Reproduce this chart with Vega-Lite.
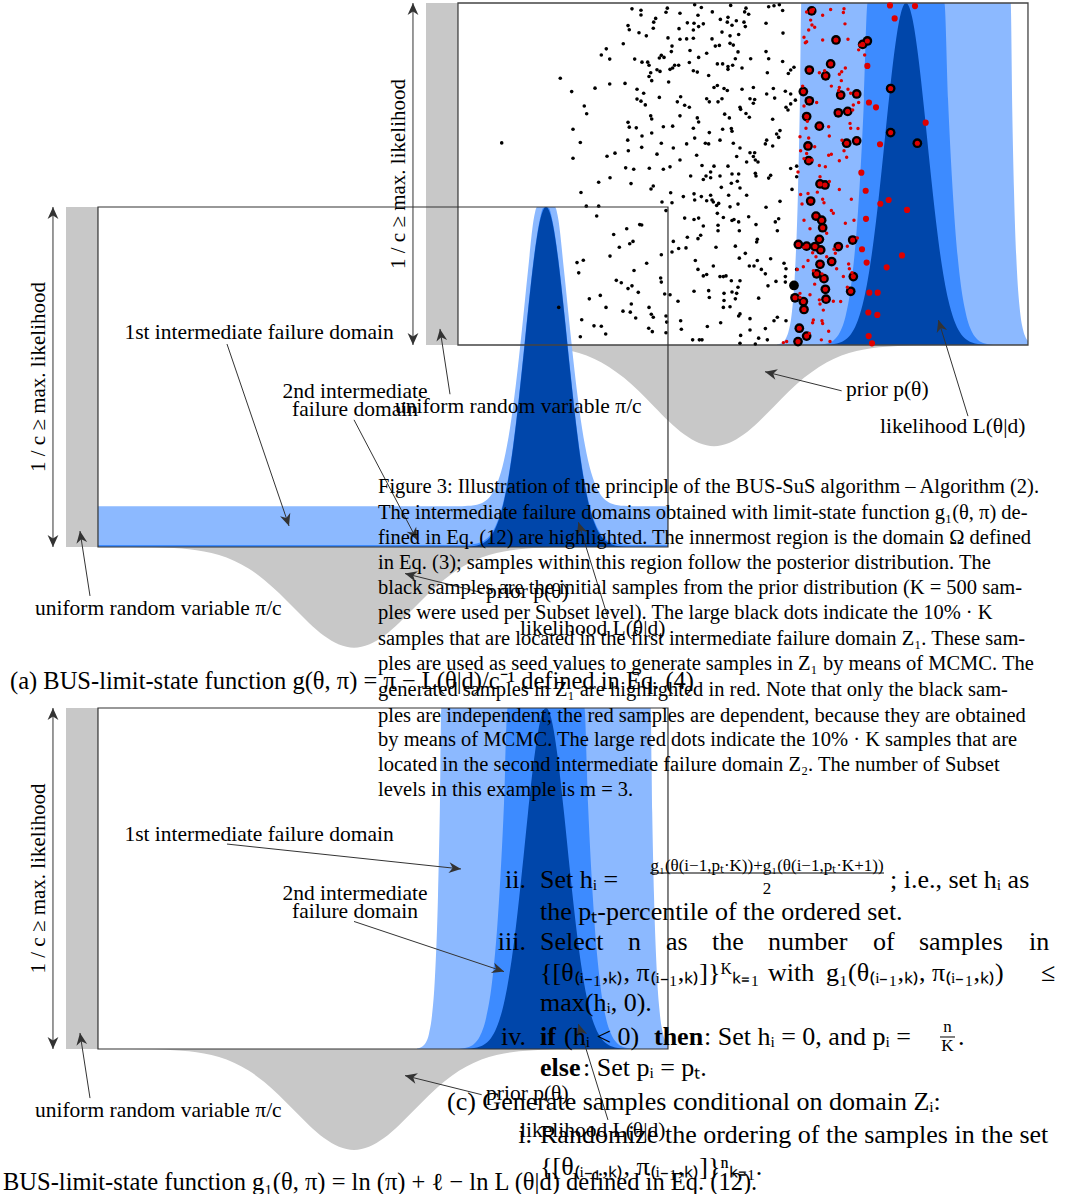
{
  "$schema": "https://vega.github.io/schema/vega-lite/v6.json",
  "width": 1068,
  "height": 1194,
  "padding": 0,
  "autosize": {"type": "none"},
  "background": "white",
  "config": {"view": {"stroke": null}},
  "datasets": {
    "bar": [{"x": -4.8, "x2": -4.267, "y": 0, "y2": 1}],
    "box": [{"x": -4.267, "x2": 5.233, "y": 0, "y2": 1}],
    "prior": [
      {"t": -4, "p": -0.0001}, {"t": -3.5, "p": -0.0007}, {"t": -3.25, "p": -0.0015}, {"t": -3, "p": -0.0033},
      {"t": -2.75, "p": -0.0067}, {"t": -2.5, "p": -0.013}, {"t": -2.25, "p": -0.0236}, {"t": -2, "p": -0.0401},
      {"t": -1.75, "p": -0.064}, {"t": -1.5, "p": -0.0961}, {"t": -1.25, "p": -0.1355}, {"t": -1, "p": -0.1795},
      {"t": -0.75, "p": -0.2234}, {"t": -0.5, "p": -0.2612}, {"t": -0.25, "p": -0.2869}, {"t": 0, "p": -0.296},
      {"t": 0.25, "p": -0.2869}, {"t": 0.5, "p": -0.2612}, {"t": 0.75, "p": -0.2234}, {"t": 1, "p": -0.1795},
      {"t": 1.25, "p": -0.1355}, {"t": 1.5, "p": -0.0961}, {"t": 1.75, "p": -0.064}, {"t": 2, "p": -0.0401},
      {"t": 2.25, "p": -0.0236}, {"t": 2.5, "p": -0.013}, {"t": 2.75, "p": -0.0067}, {"t": 3, "p": -0.0033},
      {"t": 3.25, "p": -0.0015}, {"t": 3.5, "p": -0.0007}, {"t": 4, "p": -0.0001}
    ],
    "lik": [
      {"t": 1.05, "lt": 0.0016, "md": 0, "dk": 0}, {"t": 1.1, "lt": 0.0038, "md": 0, "dk": 0},
      {"t": 1.15, "lt": 0.0089, "md": 0, "dk": 0}, {"t": 1.2, "lt": 0.02, "md": 0, "dk": 0},
      {"t": 1.25, "lt": 0.045, "md": 0, "dk": 0}, {"t": 1.3, "lt": 0.099, "md": 0, "dk": 0},
      {"t": 1.35, "lt": 0.214, "md": 0, "dk": 0}, {"t": 1.4, "lt": 0.45, "md": 0, "dk": 0},
      {"t": 1.43, "lt": 0.696, "md": 0, "dk": 0}, {"t": 1.455, "lt": 1, "md": 0, "dk": 0},
      {"t": 1.7, "lt": 1, "md": 0, "dk": 0}, {"t": 1.8, "lt": 1, "md": 0.0018, "dk": 0},
      {"t": 1.9, "lt": 1, "md": 0.0054, "dk": 0.001}, {"t": 2.0, "lt": 1, "md": 0.0149, "dk": 0.0028},
      {"t": 2.1, "lt": 1, "md": 0.038, "dk": 0.0072}, {"t": 2.2, "lt": 1, "md": 0.09, "dk": 0.0169},
      {"t": 2.3, "lt": 1, "md": 0.195, "dk": 0.0367}, {"t": 2.4, "lt": 1, "md": 0.391, "dk": 0.0734},
      {"t": 2.5, "lt": 1, "md": 0.72, "dk": 0.135}, {"t": 2.56, "lt": 1, "md": 1, "dk": 0.188},
      {"t": 2.6, "lt": 1, "md": 1, "dk": 0.23}, {"t": 2.7, "lt": 1, "md": 1, "dk": 0.361},
      {"t": 2.8, "lt": 1, "md": 1, "dk": 0.521}, {"t": 2.9, "lt": 1, "md": 1, "dk": 0.693},
      {"t": 3.0, "lt": 1, "md": 1, "dk": 0.849}, {"t": 3.1, "lt": 1, "md": 1, "dk": 0.96},
      {"t": 3.15, "lt": 1, "md": 1, "dk": 0.99}, {"t": 3.2, "lt": 1, "md": 1, "dk": 1},
      {"t": 3.25, "lt": 1, "md": 1, "dk": 0.99}, {"t": 3.3, "lt": 1, "md": 1, "dk": 0.96},
      {"t": 3.4, "lt": 1, "md": 1, "dk": 0.849}, {"t": 3.5, "lt": 1, "md": 1, "dk": 0.693},
      {"t": 3.6, "lt": 1, "md": 1, "dk": 0.521}, {"t": 3.7, "lt": 1, "md": 1, "dk": 0.361},
      {"t": 3.8, "lt": 1, "md": 1, "dk": 0.23}, {"t": 3.84, "lt": 1, "md": 1, "dk": 0.188},
      {"t": 3.9, "lt": 1, "md": 0.72, "dk": 0.135}, {"t": 4.0, "lt": 1, "md": 0.391, "dk": 0.0734},
      {"t": 4.1, "lt": 1, "md": 0.195, "dk": 0.0367}, {"t": 4.2, "lt": 1, "md": 0.09, "dk": 0.0169},
      {"t": 4.3, "lt": 1, "md": 0.038, "dk": 0.0072}, {"t": 4.4, "lt": 1, "md": 0.0149, "dk": 0.0028},
      {"t": 4.5, "lt": 1, "md": 0.0054, "dk": 0.001}, {"t": 4.6, "lt": 1, "md": 0.0018, "dk": 0},
      {"t": 4.7, "lt": 1, "md": 0, "dk": 0}, {"t": 4.945, "lt": 1, "md": 0, "dk": 0},
      {"t": 4.97, "lt": 0.696, "md": 0, "dk": 0}, {"t": 5.0, "lt": 0.45, "md": 0, "dk": 0},
      {"t": 5.05, "lt": 0.214, "md": 0, "dk": 0}, {"t": 5.1, "lt": 0.099, "md": 0, "dk": 0},
      {"t": 5.15, "lt": 0.045, "md": 0, "dk": 0}, {"t": 5.2, "lt": 0.02, "md": 0, "dk": 0},
      {"t": 5.233, "lt": 0.0118, "md": 0, "dk": 0}
    ],
    "likA": [
      {"t": -4.267, "lt": 0.12, "md": 0.006, "dk": 0}, {"t": 1.8, "lt": 0.12, "md": 0.006, "dk": 0},
      {"t": 1.9, "lt": 0.121, "md": 0.007, "dk": 0.001}, {"t": 2.0, "lt": 0.1228, "md": 0.0088, "dk": 0.0028},
      {"t": 2.1, "lt": 0.1272, "md": 0.0132, "dk": 0.0072}, {"t": 2.2, "lt": 0.1369, "md": 0.0229, "dk": 0.0169},
      {"t": 2.3, "lt": 0.1567, "md": 0.0427, "dk": 0.0367}, {"t": 2.4, "lt": 0.1934, "md": 0.0794, "dk": 0.0734},
      {"t": 2.5, "lt": 0.255, "md": 0.141, "dk": 0.135}, {"t": 2.6, "lt": 0.35, "md": 0.236, "dk": 0.23},
      {"t": 2.7, "lt": 0.481, "md": 0.367, "dk": 0.361}, {"t": 2.8, "lt": 0.641, "md": 0.527, "dk": 0.521},
      {"t": 2.9, "lt": 0.813, "md": 0.699, "dk": 0.693}, {"t": 3.0, "lt": 0.969, "md": 0.855, "dk": 0.849},
      {"t": 3.05, "lt": 1, "md": 0.918, "dk": 0.912}, {"t": 3.1, "lt": 1, "md": 0.966, "dk": 0.96},
      {"t": 3.15, "lt": 1, "md": 0.996, "dk": 0.99}, {"t": 3.2, "lt": 1, "md": 1, "dk": 1},
      {"t": 3.25, "lt": 1, "md": 0.996, "dk": 0.99}, {"t": 3.3, "lt": 1, "md": 0.966, "dk": 0.96},
      {"t": 3.35, "lt": 1, "md": 0.918, "dk": 0.912}, {"t": 3.4, "lt": 0.969, "md": 0.855, "dk": 0.849},
      {"t": 3.5, "lt": 0.813, "md": 0.699, "dk": 0.693}, {"t": 3.6, "lt": 0.641, "md": 0.527, "dk": 0.521},
      {"t": 3.7, "lt": 0.481, "md": 0.367, "dk": 0.361}, {"t": 3.8, "lt": 0.35, "md": 0.236, "dk": 0.23},
      {"t": 3.9, "lt": 0.255, "md": 0.141, "dk": 0.135}, {"t": 4.0, "lt": 0.1934, "md": 0.0794, "dk": 0.0734},
      {"t": 4.1, "lt": 0.1567, "md": 0.0427, "dk": 0.0367}, {"t": 4.2, "lt": 0.1369, "md": 0.0229, "dk": 0.0169},
      {"t": 4.3, "lt": 0.1272, "md": 0.0132, "dk": 0.0072}, {"t": 4.4, "lt": 0.1228, "md": 0.0088, "dk": 0.0028},
      {"t": 4.5, "lt": 0.121, "md": 0.007, "dk": 0.001}, {"t": 4.6, "lt": 0.12, "md": 0.006, "dk": 0},
      {"t": 5.233, "lt": 0.12, "md": 0.006, "dk": 0}
    ],
    "guides": [
      {"x": -5.017, "y": 0, "x2": -5.017, "y2": 1},
      {"x": -4.4, "y": -0.144, "x2": -4.567, "y2": 0.047},
      {"x": 2.128, "y": -0.134, "x2": 0.85, "y2": -0.078},
      {"x": 4.233, "y": -0.208, "x2": 3.74, "y2": 0.073}
    ],
    "heads": [
      {"x": -5.017, "y": 1, "dir": 0},
      {"x": -5.017, "y": 0, "dir": 180},
      {"x": -4.567, "y": 0.047, "dir": -8.7},
      {"x": 0.85, "y": -0.078, "dir": -76.1},
      {"x": 3.74, "y": 0.073, "dir": -17.1}
    ],
    "notes": [
      {"x": -5.317, "y": -0.182, "text": "uniform random variable π/c"},
      {"x": 2.2, "y": -0.132, "text": "prior p(θ)"},
      {"x": 2.767, "y": -0.24, "text": "likelihood L(θ|d)"}
    ],
    "axisNote": [{"x": -5.25, "y": 0.5, "text": "1 / c ≥ max. likelihood"}],
    "domLabels": [
      {"x": -1.583, "y": 0.629, "text": "1st intermediate failure domain"},
      {"x": 0.017, "y": 0.456, "text": "2nd intermediate"},
      {"x": 0.017, "y": 0.403, "text": "failure domain"}
    ],
    "arrowsA": [
      {"x": -2.117, "y": 0.597, "x2": -1.083, "y2": 0.062},
      {"x": 0, "y": 0.374, "x2": 1.05, "y2": 0.021}
    ],
    "headsA": [
      {"x": -1.083, "y": 0.062, "dir": 161.2},
      {"x": 1.05, "y": 0.021, "dir": 152.3}
    ],
    "arrowsB": [
      {"x": -2.117, "y": 0.601, "x2": 1.783, "y2": 0.528},
      {"x": 0, "y": 0.374, "x2": 2.5, "y2": 0.227}
    ],
    "headsB": [
      {"x": 1.783, "y": 0.528, "dir": 96.1},
      {"x": 2.5, "y": 0.227, "dir": 108.4}
    ],
    "capA": [{"x": -5.733, "y": -0.397, "text": "(a) BUS-limit-state function g(θ, π) = π − L(θ|d)/c⁻¹ defined in Eq. (4)"}],
    "capB": [{"x": -5.85, "y": -0.393, "text": "BUS-limit-state function g₁(θ, π) = ln (π) + ℓ − ln L (θ|d) defined in Eq. (12)."}],
    "blk": [
      {"x": -1.367, "y": 0.983}, {"x": -1.217, "y": 0.979}, {"x": -1.217, "y": 0.965}, {"x": -0.972, "y": 0.955},
      {"x": -1.005, "y": 0.944}, {"x": -1.012, "y": 0.926}, {"x": -1.433, "y": 0.934}, {"x": -1.412, "y": 0.922},
      {"x": -1.25, "y": 0.913}, {"x": -1.128, "y": 0.904}, {"x": -1.512, "y": 0.881}, {"x": -1.795, "y": 0.866},
      {"x": -1.878, "y": 0.848}, {"x": -1.738, "y": 0.836}, {"x": -1.322, "y": 0.836}, {"x": -1.2, "y": 0.827},
      {"x": -1.105, "y": 0.827}, {"x": -1.083, "y": 0.818}, {"x": -0.95, "y": 0.805}, {"x": -1.055, "y": 0.796},
      {"x": -1.083, "y": 0.785}, {"x": -1.038, "y": 0.773}, {"x": -2.562, "y": 0.78}, {"x": -2.372, "y": 0.741},
      {"x": -1.983, "y": 0.751}, {"x": -1.738, "y": 0.763}, {"x": -1.483, "y": 0.765}, {"x": -1.283, "y": 0.748},
      {"x": -1.172, "y": 0.736}, {"x": -1.283, "y": 0.719}, {"x": -1.217, "y": 0.713}, {"x": -1.145, "y": 0.702},
      {"x": -2.162, "y": 0.699}, {"x": -2.122, "y": 0.676}, {"x": -1.055, "y": 0.67}, {"x": -1.038, "y": 0.661},
      {"x": -2.35, "y": 0.631}, {"x": -1.433, "y": 0.651}, {"x": -1.412, "y": 0.637}, {"x": -1.295, "y": 0.635},
      {"x": -1.038, "y": 0.62}, {"x": -1.2, "y": 0.611}, {"x": -1.438, "y": 0.599}, {"x": -2.228, "y": 0.592},
      {"x": -3.538, "y": 0.591}, {"x": -1.205, "y": 0.578}, {"x": -1.428, "y": 0.568}, {"x": -1.65, "y": 0.561},
      {"x": -1.783, "y": 0.552}, {"x": -0.95, "y": 0.558}, {"x": -2.35, "y": 0.546}, {"x": -1.472, "y": 0.518},
      {"x": -1.338, "y": 0.514}, {"x": -1.078, "y": 0.517},
      {"x": -2.217, "y": 0.446}, {"x": -1.922, "y": 0.476}, {"x": -1.733, "y": 0.489}, {"x": -1.383, "y": 0.472},
      {"x": -1.012, "y": 0.465}, {"x": -1.05, "y": 0.456}, {"x": -2.128, "y": 0.406}, {"x": -1.922, "y": 0.406},
      {"x": -1.955, "y": 0.377}, {"x": -1.238, "y": 0.352}, {"x": -1.205, "y": 0.351}, {"x": -1.455, "y": 0.34},
      {"x": -1.672, "y": 0.323}, {"x": -1.35, "y": 0.303}, {"x": -1.405, "y": 0.296}, {"x": -1.578, "y": 0.286},
      {"x": -1.733, "y": 0.26}, {"x": -2.178, "y": 0.248}, {"x": -2.283, "y": 0.241}, {"x": -2.255, "y": 0.211},
      {"x": -1.122, "y": 0.239}, {"x": -1.333, "y": 0.218}, {"x": -1.628, "y": 0.189}, {"x": -1.545, "y": 0.182},
      {"x": -1.367, "y": 0.173}, {"x": -1.433, "y": 0.165}, {"x": -1.262, "y": 0.154}, {"x": -1.895, "y": 0.145},
      {"x": -2.078, "y": 0.135}, {"x": -1.8, "y": 0.11}, {"x": -2.588, "y": 0.11}, {"x": -1.378, "y": 0.12},
      {"x": -1.517, "y": 0.099}, {"x": -1.395, "y": 0.096}, {"x": -1.083, "y": 0.11}, {"x": -1.045, "y": 0.09},
      {"x": -1.012, "y": 0.081}, {"x": -1.305, "y": 0.079}, {"x": -2.205, "y": 0.074}, {"x": -2.0, "y": 0.056},
      {"x": -1.878, "y": 0.055}, {"x": -1.805, "y": 0.032}, {"x": -1.088, "y": 0.049}, {"x": -1.028, "y": 0.039},
      {"x": -2.228, "y": 0.024},
      {"x": -0.778, "y": 0.985}, {"x": -0.8, "y": 0.973}, {"x": -0.567, "y": 0.97}, {"x": -0.322, "y": 0.995},
      {"x": -0.267, "y": 0.964}, {"x": -0.211, "y": 0.987}, {"x": -0.028, "y": 0.974}, {"x": 0.278, "y": 0.993},
      {"x": 0.533, "y": 0.985}, {"x": 0.511, "y": 0.974}, {"x": 0.578, "y": 0.967}, {"x": 0.911, "y": 0.989},
      {"x": 1.0, "y": 0.992}, {"x": 1.089, "y": 0.995}, {"x": 1.144, "y": 0.978}, {"x": -0.583, "y": 0.925},
      {"x": -0.444, "y": 0.942}, {"x": -0.333, "y": 0.941}, {"x": -0.344, "y": 0.921}, {"x": -0.256, "y": 0.931},
      {"x": -0.178, "y": 0.939}, {"x": 0.106, "y": 0.952}, {"x": 0.233, "y": 0.958}, {"x": 0.222, "y": 0.944},
      {"x": 0.372, "y": 0.948}, {"x": 0.3, "y": 0.935}, {"x": 0.133, "y": 0.915}, {"x": 0.5, "y": 0.944},
      {"x": 0.522, "y": 0.931}, {"x": 0.411, "y": 0.908}, {"x": 0.867, "y": 0.941}, {"x": 1.15, "y": 0.912},
      {"x": -0.767, "y": 0.898}, {"x": -0.567, "y": 0.894}, {"x": -0.456, "y": 0.895}, {"x": -0.344, "y": 0.897},
      {"x": -0.033, "y": 0.895}, {"x": 0.267, "y": 0.904}, {"x": -0.7, "y": 0.874}, {"x": -0.711, "y": 0.858},
      {"x": -0.4, "y": 0.861}, {"x": -0.122, "y": 0.853}, {"x": 0.022, "y": 0.874}, {"x": 0.089, "y": 0.876},
      {"x": 0.267, "y": 0.882}, {"x": 0.322, "y": 0.877}, {"x": 0.4, "y": 0.857}, {"x": 0.867, "y": 0.858},
      {"x": 0.911, "y": 0.837}, {"x": 1.144, "y": 0.829}, {"x": 0.611, "y": 0.837}, {"x": 0.356, "y": 0.837},
      {"x": -0.878, "y": 0.847}, {"x": -0.911, "y": 0.839}, {"x": -0.833, "y": 0.841}, {"x": -0.9, "y": 0.8},
      {"x": -0.733, "y": 0.806}, {"x": -0.689, "y": 0.81}, {"x": -0.656, "y": 0.818}, {"x": -0.589, "y": 0.818},
      {"x": -0.411, "y": 0.826}, {"x": -0.344, "y": 0.802}, {"x": -0.278, "y": 0.798}, {"x": -0.256, "y": 0.841},
      {"x": -0.089, "y": 0.788}, {"x": 0.056, "y": 0.822}, {"x": 0.144, "y": 0.822}, {"x": 0.233, "y": 0.814},
      {"x": 0.233, "y": 0.806}, {"x": 0.311, "y": 0.818}, {"x": 0.467, "y": 0.81}, {"x": 0.889, "y": 0.796},
      {"x": 1.239, "y": 0.794}, {"x": 1.278, "y": 0.804}, {"x": 1.333, "y": 0.812}, {"x": -0.756, "y": 0.769},
      {"x": 0.0, "y": 0.753}, {"x": 0.056, "y": 0.759}, {"x": 0.167, "y": 0.75}, {"x": 0.222, "y": 0.744},
      {"x": 0.467, "y": 0.748}, {"x": 0.656, "y": 0.753}, {"x": 0.878, "y": 0.734}, {"x": 0.989, "y": 0.75},
      {"x": 1.189, "y": 0.742}, {"x": 1.278, "y": 0.734}, {"x": 1.356, "y": 0.716}, {"x": -0.911, "y": 0.724},
      {"x": -0.611, "y": 0.711}, {"x": -0.556, "y": 0.726}, {"x": -0.489, "y": 0.701}, {"x": -0.411, "y": 0.695},
      {"x": -0.122, "y": 0.72}, {"x": -0.078, "y": 0.711}, {"x": 0.067, "y": 0.711}, {"x": 0.133, "y": 0.72},
      {"x": 0.6, "y": 0.72}, {"x": 0.678, "y": 0.718}, {"x": 0.656, "y": 0.707}, {"x": 1.011, "y": 0.722},
      {"x": 0.433, "y": 0.695}, {"x": 0.444, "y": 0.689}, {"x": 0.533, "y": 0.677}, {"x": 0.589, "y": 0.666},
      {"x": 1.2, "y": 0.695}, {"x": 1.233, "y": 0.687}, {"x": 1.278, "y": 0.705}, {"x": -0.567, "y": 0.67},
      {"x": -0.278, "y": 0.664}, {"x": -0.256, "y": 0.652}, {"x": 0.178, "y": 0.675}, {"x": 0.256, "y": 0.664},
      {"x": -0.689, "y": 0.64}, {"x": -0.844, "y": 0.638}, {"x": -0.344, "y": 0.634}, {"x": -0.078, "y": 0.621},
      {"x": 0.144, "y": 0.631}, {"x": 0.289, "y": 0.633}, {"x": 0.3, "y": 0.625}, {"x": 0.978, "y": 0.66},
      {"x": 1.044, "y": 0.617}, {"x": 1.078, "y": 0.607}, {"x": 1.1, "y": 0.627}, {"x": -0.878, "y": 0.59},
      {"x": -0.678, "y": 0.576}, {"x": -0.456, "y": 0.588}, {"x": -0.322, "y": 0.605}, {"x": -0.144, "y": 0.59},
      {"x": -0.089, "y": 0.588}, {"x": 0.1, "y": 0.599}, {"x": 0.322, "y": 0.59}, {"x": 0.433, "y": 0.576},
      {"x": 0.6, "y": 0.562}, {"x": 0.656, "y": 0.551}, {"x": 0.689, "y": 0.541}, {"x": 0.733, "y": 0.535},
      {"x": 0.856, "y": 0.588}, {"x": 0.878, "y": 0.599}, {"x": 0.978, "y": 0.582}, {"x": 0.678, "y": 0.562},
      {"x": -0.567, "y": 0.541}, {"x": -0.289, "y": 0.555}, {"x": -0.2, "y": 0.525}, {"x": 0.0, "y": 0.523},
      {"x": -0.056, "y": 0.506}, {"x": 0.233, "y": 0.523}, {"x": 0.378, "y": 0.551}, {"x": 0.544, "y": 0.535},
      {"x": 1.378, "y": 0.523}, {"x": 1.278, "y": 0.516}, {"x": -0.844, "y": 0.514}, {"x": -0.733, "y": 0.521},
      {"x": 0.3, "y": 0.5}, {"x": 0.411, "y": 0.5}, {"x": 0.689, "y": 0.502},
      {"x": -0.389, "y": 0.494}, {"x": -0.178, "y": 0.484}, {"x": -0.133, "y": 0.494}, {"x": -0.056, "y": 0.489},
      {"x": 0.1, "y": 0.494}, {"x": 0.7, "y": 0.494}, {"x": 0.911, "y": 0.488}, {"x": 0.944, "y": 0.496},
      {"x": 1.378, "y": 0.492}, {"x": -0.722, "y": 0.445}, {"x": -0.867, "y": 0.418}, {"x": -0.7, "y": 0.416},
      {"x": -0.511, "y": 0.434}, {"x": -0.333, "y": 0.442}, {"x": -0.322, "y": 0.424}, {"x": -0.211, "y": 0.434},
      {"x": -0.122, "y": 0.422}, {"x": -0.056, "y": 0.438}, {"x": -0.033, "y": 0.424}, {"x": -0.011, "y": 0.418},
      {"x": 0.044, "y": 0.408}, {"x": 0.078, "y": 0.414}, {"x": 0.122, "y": 0.461}, {"x": 0.244, "y": 0.438},
      {"x": 0.289, "y": 0.473}, {"x": 0.389, "y": 0.479}, {"x": 0.433, "y": 0.459}, {"x": 0.4, "y": 0.412},
      {"x": 0.267, "y": 0.404}, {"x": 0.544, "y": 0.438}, {"x": 0.867, "y": 0.403}, {"x": 1.1, "y": 0.42},
      {"x": 1.3, "y": 0.455}, {"x": -0.8, "y": 0.393}, {"x": -0.489, "y": 0.371}, {"x": -0.333, "y": 0.367},
      {"x": -0.256, "y": 0.371}, {"x": -0.178, "y": 0.348}, {"x": 0.056, "y": 0.385}, {"x": 0.067, "y": 0.35},
      {"x": 0.067, "y": 0.334}, {"x": 0.156, "y": 0.373}, {"x": 0.3, "y": 0.364}, {"x": 0.333, "y": 0.367},
      {"x": 0.411, "y": 0.36}, {"x": 0.422, "y": 0.334}, {"x": 0.578, "y": 0.375}, {"x": 0.7, "y": 0.352},
      {"x": 0.722, "y": 0.309}, {"x": 0.711, "y": 0.301}, {"x": 1.022, "y": 0.36}, {"x": 1.078, "y": 0.369},
      {"x": 1.056, "y": 0.334}, {"x": -0.678, "y": 0.303}, {"x": -0.7, "y": 0.272}, {"x": -0.589, "y": 0.282},
      {"x": -0.467, "y": 0.284}, {"x": -0.444, "y": 0.315}, {"x": -0.267, "y": 0.311}, {"x": -0.222, "y": 0.321},
      {"x": 0.033, "y": 0.286}, {"x": 0.356, "y": 0.289}, {"x": 0.422, "y": 0.254}, {"x": 0.522, "y": 0.268},
      {"x": 0.722, "y": 0.247}, {"x": 0.944, "y": 0.252}, {"x": 1.167, "y": 0.239}, {"x": -0.878, "y": 0.264},
      {"x": -0.311, "y": 0.247}, {"x": -0.267, "y": 0.221}, {"x": -0.178, "y": 0.202}, {"x": -0.122, "y": 0.206},
      {"x": -0.011, "y": 0.231}, {"x": 0.1, "y": 0.2}, {"x": 0.156, "y": 0.2}, {"x": 0.2, "y": 0.202},
      {"x": 0.289, "y": 0.188}, {"x": 0.433, "y": 0.188}, {"x": 0.589, "y": 0.231}, {"x": 0.667, "y": 0.231},
      {"x": 0.789, "y": 0.221}, {"x": 0.856, "y": 0.208}, {"x": 1.033, "y": 0.186}, {"x": 1.2, "y": 0.223},
      {"x": 1.189, "y": 0.2}, {"x": 1.189, "y": 0.184}, {"x": 1.378, "y": 0.221}, {"x": -0.889, "y": 0.196},
      {"x": -0.878, "y": 0.184}, {"x": -0.822, "y": 0.149}, {"x": -0.733, "y": 0.147}, {"x": -0.6, "y": 0.128},
      {"x": -0.333, "y": 0.157}, {"x": -0.089, "y": 0.159}, {"x": -0.078, "y": 0.139}, {"x": 0.167, "y": 0.151},
      {"x": 0.167, "y": 0.13}, {"x": 0.3, "y": 0.155}, {"x": 0.378, "y": 0.151}, {"x": 0.356, "y": 0.135},
      {"x": 0.4, "y": 0.169}, {"x": 0.156, "y": 0.11}, {"x": 0.267, "y": 0.112}, {"x": 0.433, "y": 0.091},
      {"x": 0.411, "y": 0.085}, {"x": 0.6, "y": 0.077}, {"x": 0.744, "y": 0.137}, {"x": 0.9, "y": 0.173},
      {"x": 1.0, "y": 0.071}, {"x": 1.056, "y": 0.081}, {"x": 1.2, "y": 0.071}, {"x": -0.8, "y": 0.085},
      {"x": -0.789, "y": 0.067}, {"x": -0.556, "y": 0.071}, {"x": -0.544, "y": 0.046}, {"x": -0.111, "y": 0.054},
      {"x": 0.111, "y": 0.065}, {"x": 0.444, "y": 0.028}, {"x": 0.6, "y": 0.044}, {"x": 0.744, "y": 0.02},
      {"x": 0.856, "y": 0.048}, {"x": 0.889, "y": 0.015}, {"x": -0.8, "y": 0.036}, {"x": -0.356, "y": 0.015},
      {"x": -0.244, "y": 0.015}, {"x": -0.2, "y": 0.015}, {"x": 0.689, "y": 0.003}, {"x": 0.433, "y": 0.005}
    ],
    "seeds": [
      {"x": 1.628, "y": 0.977}, {"x": 2.033, "y": 0.892}, {"x": 2.556, "y": 0.889}, {"x": 2.478, "y": 0.879},
      {"x": 1.944, "y": 0.822}, {"x": 1.589, "y": 0.804}, {"x": 1.861, "y": 0.787}, {"x": 1.489, "y": 0.741},
      {"x": 1.589, "y": 0.714}, {"x": 2.111, "y": 0.731}, {"x": 2.378, "y": 0.734}, {"x": 2.072, "y": 0.679},
      {"x": 2.228, "y": 0.683}, {"x": 1.544, "y": 0.668}, {"x": 1.756, "y": 0.64}, {"x": 2.944, "y": 0.75},
      {"x": 2.944, "y": 0.621}, {"x": 3.389, "y": 0.59}, {"x": 1.567, "y": 0.582}, {"x": 2.211, "y": 0.59},
      {"x": 2.378, "y": 0.597}, {"x": 1.578, "y": 0.539}, {"x": 1.767, "y": 0.471}, {"x": 1.85, "y": 0.468},
      {"x": 1.611, "y": 0.421}, {"x": 1.7, "y": 0.377}, {"x": 1.794, "y": 0.365}, {"x": 1.811, "y": 0.343},
      {"x": 1.406, "y": 0.294}, {"x": 1.544, "y": 0.289}, {"x": 1.756, "y": 0.309}, {"x": 1.683, "y": 0.288},
      {"x": 1.778, "y": 0.278}, {"x": 2.072, "y": 0.288}, {"x": 2.311, "y": 0.307}, {"x": 1.961, "y": 0.244},
      {"x": 1.767, "y": 0.236}, {"x": 1.711, "y": 0.208}, {"x": 1.833, "y": 0.194}, {"x": 2.322, "y": 0.2},
      {"x": 1.856, "y": 0.163}, {"x": 2.278, "y": 0.157}, {"x": 1.35, "y": 0.138}, {"x": 1.489, "y": 0.127},
      {"x": 1.867, "y": 0.134}, {"x": 1.5, "y": 0.104}, {"x": 1.422, "y": 0.049}, {"x": 1.544, "y": 0.026},
      {"x": 1.4, "y": 0.01}
    ],
    "seedBig": [{"x": 1.333, "y": 0.174}],
    "red": [
      {"x": 1.544, "y": 0.974}, {"x": 1.656, "y": 0.981}, {"x": 1.811, "y": 0.964}, {"x": 1.944, "y": 0.981},
      {"x": 2.167, "y": 0.983}, {"x": 2.156, "y": 0.972}, {"x": 2.183, "y": 0.939}, {"x": 1.611, "y": 0.95},
      {"x": 1.633, "y": 0.936}, {"x": 1.678, "y": 0.929}, {"x": 1.578, "y": 0.921}, {"x": 1.5, "y": 0.9},
      {"x": 1.544, "y": 0.887}, {"x": 1.522, "y": 0.884}, {"x": 1.811, "y": 0.892}, {"x": 2.233, "y": 0.894},
      {"x": 2.433, "y": 0.877}, {"x": 2.411, "y": 0.863}, {"x": 2.511, "y": 0.848}, {"x": 2.189, "y": 0.81},
      {"x": 2.128, "y": 0.799}, {"x": 2.089, "y": 0.792}, {"x": 2.122, "y": 0.773}, {"x": 1.756, "y": 0.796},
      {"x": 1.844, "y": 0.802}, {"x": 1.478, "y": 0.757}, {"x": 1.956, "y": 0.757}, {"x": 2.089, "y": 0.753},
      {"x": 2.078, "y": 0.744}, {"x": 2.233, "y": 0.748}, {"x": 2.278, "y": 0.736}, {"x": 2.411, "y": 0.709},
      {"x": 2.322, "y": 0.702}, {"x": 2.311, "y": 0.687}, {"x": 1.711, "y": 0.709}, {"x": 1.5, "y": 0.699},
      {"x": 1.556, "y": 0.654}, {"x": 1.911, "y": 0.638}, {"x": 2.267, "y": 0.648}, {"x": 2.278, "y": 0.634},
      {"x": 2.4, "y": 0.633}, {"x": 1.533, "y": 0.634}, {"x": 1.433, "y": 0.609}, {"x": 1.578, "y": 0.605},
      {"x": 1.678, "y": 0.58}, {"x": 1.922, "y": 0.611}, {"x": 2.133, "y": 0.599}, {"x": 2.167, "y": 0.568},
      {"x": 1.444, "y": 0.568}, {"x": 1.544, "y": 0.56}, {"x": 1.5, "y": 0.545}, {"x": 1.633, "y": 0.541},
      {"x": 1.756, "y": 0.525}, {"x": 1.856, "y": 0.521}, {"x": 1.956, "y": 0.558}, {"x": 1.911, "y": 0.555},
      {"x": 2.089, "y": 0.539}, {"x": 2.211, "y": 0.549}, {"x": 1.4, "y": 0.506}, {"x": 1.767, "y": 0.492},
      {"x": 1.722, "y": 0.447}, {"x": 1.922, "y": 0.478}, {"x": 2.089, "y": 0.455}, {"x": 1.444, "y": 0.44},
      {"x": 1.567, "y": 0.443}, {"x": 1.811, "y": 0.426}, {"x": 1.833, "y": 0.416}, {"x": 2.289, "y": 0.426},
      {"x": 1.467, "y": 0.412}, {"x": 1.5, "y": 0.365}, {"x": 1.956, "y": 0.393}, {"x": 1.989, "y": 0.385},
      {"x": 2.189, "y": 0.356}, {"x": 2.333, "y": 0.365}, {"x": 1.6, "y": 0.34}, {"x": 1.878, "y": 0.327},
      {"x": 2.389, "y": 0.313}, {"x": 2.222, "y": 0.289}, {"x": 1.5, "y": 0.286}, {"x": 1.644, "y": 0.27},
      {"x": 1.7, "y": 0.258}, {"x": 1.878, "y": 0.258}, {"x": 2.0, "y": 0.28}, {"x": 2.022, "y": 0.268},
      {"x": 1.567, "y": 0.247}, {"x": 1.489, "y": 0.229}, {"x": 1.389, "y": 0.221}, {"x": 1.656, "y": 0.217},
      {"x": 2.244, "y": 0.237}, {"x": 2.256, "y": 0.223}, {"x": 2.044, "y": 0.223}, {"x": 1.678, "y": 0.178},
      {"x": 1.8, "y": 0.208}, {"x": 2.156, "y": 0.2}, {"x": 2.222, "y": 0.169}, {"x": 2.3, "y": 0.211},
      {"x": 1.433, "y": 0.151}, {"x": 1.433, "y": 0.139}, {"x": 1.6, "y": 0.147}, {"x": 1.756, "y": 0.132},
      {"x": 1.989, "y": 0.128}, {"x": 2.111, "y": 0.127}, {"x": 1.767, "y": 0.12}, {"x": 1.822, "y": 0.102},
      {"x": 1.656, "y": 0.073}, {"x": 1.8, "y": 0.071}, {"x": 1.644, "y": 0.065}, {"x": 1.811, "y": 0.063},
      {"x": 1.911, "y": 0.04}, {"x": 1.589, "y": 0.034}, {"x": 1.789, "y": 0.015}, {"x": 1.933, "y": 0.01},
      {"x": 1.211, "y": 0.01}, {"x": 1.156, "y": 0.007}
    ],
    "red2": [
      {"x": 2.933, "y": 0.993}, {"x": 3.35, "y": 0.991}, {"x": 3.011, "y": 0.955}, {"x": 2.556, "y": 0.816},
      {"x": 2.583, "y": 0.709}, {"x": 2.7, "y": 0.695}, {"x": 3.528, "y": 0.65}, {"x": 2.767, "y": 0.587},
      {"x": 2.456, "y": 0.504}, {"x": 2.528, "y": 0.451}, {"x": 2.772, "y": 0.413}, {"x": 2.911, "y": 0.424},
      {"x": 3.217, "y": 0.395}, {"x": 2.533, "y": 0.369}, {"x": 2.467, "y": 0.28}, {"x": 3.133, "y": 0.262},
      {"x": 2.544, "y": 0.241}, {"x": 2.878, "y": 0.227}, {"x": 2.589, "y": 0.153}, {"x": 2.728, "y": 0.153},
      {"x": 2.572, "y": 0.095}, {"x": 2.722, "y": 0.088}, {"x": 2.578, "y": 0.026}, {"x": 2.633, "y": 0.005}
    ],
    "caption": [
      {"x": -5.6, "y": -0.414, "text": "Figure 3: Illustration of the principle of the BUS-SuS algorithm – Algorithm (2)."},
      {"x": -5.6, "y": -0.49, "text": "The intermediate failure domains obtained with limit-state function g₁(θ, π) de-"},
      {"x": -5.6, "y": -0.565, "text": "fined in Eq. (12) are highlighted. The innermost region is the domain Ω defined"},
      {"x": -5.6, "y": -0.638, "text": "in Eq. (3); samples within this region follow the posterior distribution.  The"},
      {"x": -5.6, "y": -0.711, "text": "black samples are the initial samples from the prior distribution (K = 500 sam-"},
      {"x": -5.6, "y": -0.785, "text": "ples were used per Subset level).  The large black dots indicate the 10% · K"},
      {"x": -5.6, "y": -0.86, "text": "samples that are located in the first intermediate failure domain Z₁. These sam-"},
      {"x": -5.6, "y": -0.934, "text": "ples are used as seed values to generate samples in Z₁ by means of MCMC. The"},
      {"x": -5.6, "y": -1.009, "text": "generated samples in Z₁ are highlighted in red. Note that only the black sam-"},
      {"x": -5.6, "y": -1.084, "text": "ples are independent; the red samples are dependent, because they are obtained"},
      {"x": -5.6, "y": -1.155, "text": "by means of MCMC. The large red dots indicate the 10% · K samples that are"},
      {"x": -5.6, "y": -1.228, "text": "located in the second intermediate failure domain Z₂.  The number of Subset"},
      {"x": -5.6, "y": -1.301, "text": "levels in this example is m = 3."}
    ],
    "alg": [
      {"x": -2.9, "y": -1.5643, "text": "Set hᵢ  ="},
      {"x": 2.9333, "y": -1.5643, "text": "; i.e., set hᵢ as"},
      {"x": -2.9, "y": -1.657, "text": "the pₜ-percentile of the ordered set."},
      {"x": -2.9, "y": -1.7447, "text": "Select"},
      {"x": -1.4333, "y": -1.7447, "text": "n"},
      {"x": -0.8, "y": -1.7447, "text": "as"},
      {"x": -0.0333, "y": -1.7447, "text": "the"},
      {"x": 0.9, "y": -1.7447, "text": "number"},
      {"x": 2.65, "y": -1.7447, "text": "of"},
      {"x": 3.4167, "y": -1.7447, "text": "samples"},
      {"x": 5.25, "y": -1.7447, "text": "in"},
      {"x": -2.9, "y": -1.8371, "text": "{[θ₍ᵢ₋₁,ₖ₎, π₍ᵢ₋₁,ₖ₎]}ᴷₖ₌₁"},
      {"x": 0.9, "y": -1.8371, "text": "with"},
      {"x": 1.8667, "y": -1.8371, "text": "g₁(θ₍ᵢ₋₁,ₖ₎, π₍ᵢ₋₁,ₖ₎)"},
      {"x": 5.45, "y": -1.8371, "text": "≤"},
      {"x": -2.9, "y": -1.9249, "text": "max(hᵢ, 0)."},
      {"x": -2.5, "y": -2.0225, "text": "(hᵢ < 0)"},
      {"x": -0.1667, "y": -2.0225, "text": ": Set hᵢ = 0, and pᵢ ="},
      {"x": 4.0667, "y": -2.0225, "text": "."},
      {"x": -2.1833, "y": -2.1149, "text": ": Set pᵢ = pₜ."},
      {"x": -4.45, "y": -2.2126, "text": "(c) Generate samples conditional on domain Zᵢ:"},
      {"x": -2.9, "y": -2.3099, "text": "Randomize the ordering of the samples in the set"},
      {"x": -2.9, "y": -2.4026, "text": "{[θ₍ᵢ₋₁,ₖ₎, π₍ᵢ₋₁,ₖ₎]}ⁿₖ₌₁."}
    ],
    "algNum": [
      {"x": -3.133, "y": -1.5643, "text": "ii."},
      {"x": -3.133, "y": -1.7447, "text": "iii."},
      {"x": -3.133, "y": -2.0225, "text": "iv."},
      {"x": -3.033, "y": -2.3099, "text": "i."}
    ],
    "algBold": [
      {"x": -2.9, "y": -2.0225, "text": "if"},
      {"x": -1.0, "y": -2.0225, "text": "then"},
      {"x": -2.9, "y": -2.1149, "text": "else"}
    ],
    "algSmall": [
      {"x": 0.8833, "y": -1.5234, "text": "g₁(θ(i−1,pₜ·K))+g₁(θ(i−1,pₜ·K+1))"},
      {"x": 0.8833, "y": -1.5906, "text": "2"},
      {"x": 3.8917, "y": -1.9942, "text": "n"},
      {"x": 3.8917, "y": -2.0497, "text": "K"}
    ],
    "algBars": [
      {"x": -1.0667, "y": -1.5439, "x2": 2.8333, "y2": -1.5439},
      {"x": 3.7667, "y": -2.0234, "x2": 4.0167, "y2": -2.0234}
    ]
  },
  "layer": [
    {"data": {"name": "bar"}, "mark": {"type": "rect", "fill": "#c8c8c8"},
     "encoding": {"x": {"field": "x", "type": "quantitative", "scale": {"domain": [-11.9, 5.9], "nice": false, "zero": false}, "axis": null}, "x2": {"field": "x2"},
                  "y": {"field": "y", "type": "quantitative", "scale": {"domain": [-2.4825, 1.0088], "nice": false, "zero": false}, "axis": null}, "y2": {"field": "y2"}}},
    {"data": {"name": "prior"}, "mark": {"type": "area", "color": "#c8c8c8", "interpolate": "monotone"},
     "encoding": {"x": {"field": "t", "type": "quantitative", "scale": {"domain": [-11.9, 5.9], "nice": false, "zero": false}, "axis": null},
                  "y": {"field": "p", "type": "quantitative", "scale": {"domain": [-2.4825, 1.0088], "nice": false, "zero": false}, "axis": null}, "y2": {"datum": 0}}},
    {"data": {"name": "lik"}, "mark": {"type": "area", "color": "#8cb9ff", "interpolate": "monotone"},
     "encoding": {"x": {"field": "t", "type": "quantitative", "scale": {"domain": [-11.9, 5.9], "nice": false, "zero": false}, "axis": null},
                  "y": {"field": "lt", "type": "quantitative", "scale": {"domain": [-2.4825, 1.0088], "nice": false, "zero": false}, "axis": null}, "y2": {"datum": 0}}},
    {"data": {"name": "lik"}, "mark": {"type": "area", "color": "#3d8bff", "interpolate": "monotone"},
     "encoding": {"x": {"field": "t", "type": "quantitative", "scale": {"domain": [-11.9, 5.9], "nice": false, "zero": false}, "axis": null},
                  "y": {"field": "md", "type": "quantitative", "scale": {"domain": [-2.4825, 1.0088], "nice": false, "zero": false}, "axis": null}, "y2": {"datum": 0}}},
    {"data": {"name": "lik"}, "mark": {"type": "area", "color": "#0046aa", "interpolate": "monotone"},
     "encoding": {"x": {"field": "t", "type": "quantitative", "scale": {"domain": [-11.9, 5.9], "nice": false, "zero": false}, "axis": null},
                  "y": {"field": "dk", "type": "quantitative", "scale": {"domain": [-2.4825, 1.0088], "nice": false, "zero": false}, "axis": null}, "y2": {"datum": 0}}},

    {"data": {"name": "bar"}, "mark": {"type": "rect", "fill": "#c8c8c8"},
     "encoding": {"x": {"field": "x", "type": "quantitative", "scale": {"domain": [-5.9, 11.9], "nice": false, "zero": false}, "axis": null}, "x2": {"field": "x2"},
                  "y": {"field": "y", "type": "quantitative", "scale": {"domain": [-1.9029, 1.6088], "nice": false, "zero": false}, "axis": null}, "y2": {"field": "y2"}}},
    {"data": {"name": "prior"}, "mark": {"type": "area", "color": "#c8c8c8", "interpolate": "monotone"},
     "encoding": {"x": {"field": "t", "type": "quantitative", "scale": {"domain": [-5.9, 11.9], "nice": false, "zero": false}, "axis": null},
                  "y": {"field": "p", "type": "quantitative", "scale": {"domain": [-1.9029, 1.6088], "nice": false, "zero": false}, "axis": null}, "y2": {"datum": 0}}},
    {"data": {"name": "likA"}, "mark": {"type": "area", "color": "#8cb9ff", "interpolate": "monotone"},
     "encoding": {"x": {"field": "t", "type": "quantitative", "scale": {"domain": [-5.9, 11.9], "nice": false, "zero": false}, "axis": null},
                  "y": {"field": "lt", "type": "quantitative", "scale": {"domain": [-1.9029, 1.6088], "nice": false, "zero": false}, "axis": null}, "y2": {"datum": 0}}},
    {"data": {"name": "likA"}, "mark": {"type": "area", "color": "#3d8bff", "interpolate": "monotone"},
     "encoding": {"x": {"field": "t", "type": "quantitative", "scale": {"domain": [-5.9, 11.9], "nice": false, "zero": false}, "axis": null},
                  "y": {"field": "md", "type": "quantitative", "scale": {"domain": [-1.9029, 1.6088], "nice": false, "zero": false}, "axis": null}, "y2": {"datum": 0}}},
    {"data": {"name": "likA"}, "mark": {"type": "area", "color": "#0046aa", "interpolate": "monotone"},
     "encoding": {"x": {"field": "t", "type": "quantitative", "scale": {"domain": [-5.9, 11.9], "nice": false, "zero": false}, "axis": null},
                  "y": {"field": "dk", "type": "quantitative", "scale": {"domain": [-1.9029, 1.6088], "nice": false, "zero": false}, "axis": null}, "y2": {"datum": 0}}},

    {"data": {"name": "bar"}, "mark": {"type": "rect", "fill": "#c8c8c8"},
     "encoding": {"x": {"field": "x", "type": "quantitative", "scale": {"domain": [-5.9, 11.9], "nice": false, "zero": false}, "axis": null}, "x2": {"field": "x2"},
                  "y": {"field": "y", "type": "quantitative", "scale": {"domain": [-0.4252, 3.0762], "nice": false, "zero": false}, "axis": null}, "y2": {"field": "y2"}}},
    {"data": {"name": "prior"}, "mark": {"type": "area", "color": "#c8c8c8", "interpolate": "monotone"},
     "encoding": {"x": {"field": "t", "type": "quantitative", "scale": {"domain": [-5.9, 11.9], "nice": false, "zero": false}, "axis": null},
                  "y": {"field": "p", "type": "quantitative", "scale": {"domain": [-0.4252, 3.0762], "nice": false, "zero": false}, "axis": null}, "y2": {"datum": 0}}},
    {"data": {"name": "lik"}, "mark": {"type": "area", "color": "#8cb9ff", "interpolate": "monotone"},
     "encoding": {"x": {"field": "t", "type": "quantitative", "scale": {"domain": [-5.9, 11.9], "nice": false, "zero": false}, "axis": null},
                  "y": {"field": "lt", "type": "quantitative", "scale": {"domain": [-0.4252, 3.0762], "nice": false, "zero": false}, "axis": null}, "y2": {"datum": 0}}},
    {"data": {"name": "lik"}, "mark": {"type": "area", "color": "#3d8bff", "interpolate": "monotone"},
     "encoding": {"x": {"field": "t", "type": "quantitative", "scale": {"domain": [-5.9, 11.9], "nice": false, "zero": false}, "axis": null},
                  "y": {"field": "md", "type": "quantitative", "scale": {"domain": [-0.4252, 3.0762], "nice": false, "zero": false}, "axis": null}, "y2": {"datum": 0}}},
    {"data": {"name": "lik"}, "mark": {"type": "area", "color": "#0046aa", "interpolate": "monotone"},
     "encoding": {"x": {"field": "t", "type": "quantitative", "scale": {"domain": [-5.9, 11.9], "nice": false, "zero": false}, "axis": null},
                  "y": {"field": "dk", "type": "quantitative", "scale": {"domain": [-0.4252, 3.0762], "nice": false, "zero": false}, "axis": null}, "y2": {"datum": 0}}},

    {"data": {"name": "box"}, "mark": {"type": "rect", "fill": null, "stroke": "#444444", "strokeWidth": 1.3},
     "encoding": {"x": {"field": "x", "type": "quantitative", "scale": {"domain": [-11.9, 5.9], "nice": false, "zero": false}, "axis": null}, "x2": {"field": "x2"},
                  "y": {"field": "y", "type": "quantitative", "scale": {"domain": [-2.4825, 1.0088], "nice": false, "zero": false}, "axis": null}, "y2": {"field": "y2"}}},
    {"data": {"name": "blk"}, "mark": {"type": "circle", "color": "#000000", "size": 13, "opacity": 1},
     "encoding": {"x": {"field": "x", "type": "quantitative", "scale": {"domain": [-11.9, 5.9], "nice": false, "zero": false}, "axis": null},
                  "y": {"field": "y", "type": "quantitative", "scale": {"domain": [-2.4825, 1.0088], "nice": false, "zero": false}, "axis": null}}},
    {"data": {"name": "seeds"}, "mark": {"type": "circle", "color": "#000000", "size": 95, "opacity": 1},
     "encoding": {"x": {"field": "x", "type": "quantitative", "scale": {"domain": [-11.9, 5.9], "nice": false, "zero": false}, "axis": null},
                  "y": {"field": "y", "type": "quantitative", "scale": {"domain": [-2.4825, 1.0088], "nice": false, "zero": false}, "axis": null}}},
    {"data": {"name": "seedBig"}, "mark": {"type": "circle", "color": "#000000", "size": 95, "opacity": 1},
     "encoding": {"x": {"field": "x", "type": "quantitative", "scale": {"domain": [-11.9, 5.9], "nice": false, "zero": false}, "axis": null},
                  "y": {"field": "y", "type": "quantitative", "scale": {"domain": [-2.4825, 1.0088], "nice": false, "zero": false}, "axis": null}}},
    {"data": {"name": "red"}, "mark": {"type": "circle", "color": "#dd0000", "size": 12, "opacity": 1},
     "encoding": {"x": {"field": "x", "type": "quantitative", "scale": {"domain": [-11.9, 5.9], "nice": false, "zero": false}, "axis": null},
                  "y": {"field": "y", "type": "quantitative", "scale": {"domain": [-2.4825, 1.0088], "nice": false, "zero": false}, "axis": null}}},
    {"data": {"name": "seeds"}, "mark": {"type": "circle", "color": "#dd0000", "size": 26, "opacity": 1},
     "encoding": {"x": {"field": "x", "type": "quantitative", "scale": {"domain": [-11.9, 5.9], "nice": false, "zero": false}, "axis": null},
                  "y": {"field": "y", "type": "quantitative", "scale": {"domain": [-2.4825, 1.0088], "nice": false, "zero": false}, "axis": null}}},
    {"data": {"name": "red2"}, "mark": {"type": "circle", "color": "#dd0000", "size": 38, "opacity": 1},
     "encoding": {"x": {"field": "x", "type": "quantitative", "scale": {"domain": [-11.9, 5.9], "nice": false, "zero": false}, "axis": null},
                  "y": {"field": "y", "type": "quantitative", "scale": {"domain": [-2.4825, 1.0088], "nice": false, "zero": false}, "axis": null}}},

    {"data": {"name": "box"}, "mark": {"type": "rect", "fill": null, "stroke": "#333333", "strokeWidth": 1.2},
     "encoding": {"x": {"field": "x", "type": "quantitative", "scale": {"domain": [-5.9, 11.9], "nice": false, "zero": false}, "axis": null}, "x2": {"field": "x2"},
                  "y": {"field": "y", "type": "quantitative", "scale": {"domain": [-1.9029, 1.6088], "nice": false, "zero": false}, "axis": null}, "y2": {"field": "y2"}}},
    {"data": {"name": "guides"}, "mark": {"type": "rule", "color": "#333333", "strokeWidth": 1},
     "encoding": {"x": {"field": "x", "type": "quantitative", "scale": {"domain": [-5.9, 11.9], "nice": false, "zero": false}, "axis": null}, "x2": {"field": "x2"},
                  "y": {"field": "y", "type": "quantitative", "scale": {"domain": [-1.9029, 1.6088], "nice": false, "zero": false}, "axis": null}, "y2": {"field": "y2"}}},
    {"data": {"name": "arrowsA"}, "mark": {"type": "rule", "color": "#333333", "strokeWidth": 1},
     "encoding": {"x": {"field": "x", "type": "quantitative", "scale": {"domain": [-5.9, 11.9], "nice": false, "zero": false}, "axis": null}, "x2": {"field": "x2"},
                  "y": {"field": "y", "type": "quantitative", "scale": {"domain": [-1.9029, 1.6088], "nice": false, "zero": false}, "axis": null}, "y2": {"field": "y2"}}},
    {"data": {"name": "heads"}, "mark": {"type": "point", "shape": "M0,0L0.45,1L0,0.7L-0.45,1Z", "filled": true, "color": "#333333", "size": 576, "opacity": 1, "strokeWidth": 0},
     "encoding": {"x": {"field": "x", "type": "quantitative", "scale": {"domain": [-5.9, 11.9], "nice": false, "zero": false}, "axis": null},
                  "y": {"field": "y", "type": "quantitative", "scale": {"domain": [-1.9029, 1.6088], "nice": false, "zero": false}, "axis": null},
                  "angle": {"field": "dir", "type": "quantitative", "scale": null}}},
    {"data": {"name": "headsA"}, "mark": {"type": "point", "shape": "M0,0L0.45,1L0,0.7L-0.45,1Z", "filled": true, "color": "#333333", "size": 576, "opacity": 1, "strokeWidth": 0},
     "encoding": {"x": {"field": "x", "type": "quantitative", "scale": {"domain": [-5.9, 11.9], "nice": false, "zero": false}, "axis": null},
                  "y": {"field": "y", "type": "quantitative", "scale": {"domain": [-1.9029, 1.6088], "nice": false, "zero": false}, "axis": null},
                  "angle": {"field": "dir", "type": "quantitative", "scale": null}}},
    {"data": {"name": "notes"}, "mark": {"type": "text", "font": "Liberation Serif", "fontSize": 21.5, "align": "left", "baseline": "middle", "color": "#000000"},
     "encoding": {"x": {"field": "x", "type": "quantitative", "scale": {"domain": [-5.9, 11.9], "nice": false, "zero": false}, "axis": null},
                  "y": {"field": "y", "type": "quantitative", "scale": {"domain": [-1.9029, 1.6088], "nice": false, "zero": false}, "axis": null}, "text": {"field": "text"}}},
    {"data": {"name": "axisNote"}, "mark": {"type": "text", "font": "Liberation Serif", "fontSize": 21, "align": "center", "baseline": "middle", "angle": 270, "color": "#000000"},
     "encoding": {"x": {"field": "x", "type": "quantitative", "scale": {"domain": [-5.9, 11.9], "nice": false, "zero": false}, "axis": null},
                  "y": {"field": "y", "type": "quantitative", "scale": {"domain": [-1.9029, 1.6088], "nice": false, "zero": false}, "axis": null}, "text": {"field": "text"}}},
    {"data": {"name": "domLabels"}, "mark": {"type": "text", "font": "Liberation Serif", "fontSize": 21.5, "align": "center", "baseline": "middle", "color": "#000000"},
     "encoding": {"x": {"field": "x", "type": "quantitative", "scale": {"domain": [-5.9, 11.9], "nice": false, "zero": false}, "axis": null},
                  "y": {"field": "y", "type": "quantitative", "scale": {"domain": [-1.9029, 1.6088], "nice": false, "zero": false}, "axis": null}, "text": {"field": "text"}}},
    {"data": {"name": "capA"}, "mark": {"type": "text", "font": "Liberation Serif", "fontSize": 24.5, "align": "left", "baseline": "middle", "color": "#000000"},
     "encoding": {"x": {"field": "x", "type": "quantitative", "scale": {"domain": [-5.9, 11.9], "nice": false, "zero": false}, "axis": null},
                  "y": {"field": "y", "type": "quantitative", "scale": {"domain": [-1.9029, 1.6088], "nice": false, "zero": false}, "axis": null}, "text": {"field": "text"}}},

    {"data": {"name": "box"}, "mark": {"type": "rect", "fill": null, "stroke": "#333333", "strokeWidth": 1.2},
     "encoding": {"x": {"field": "x", "type": "quantitative", "scale": {"domain": [-5.9, 11.9], "nice": false, "zero": false}, "axis": null}, "x2": {"field": "x2"},
                  "y": {"field": "y", "type": "quantitative", "scale": {"domain": [-0.4252, 3.0762], "nice": false, "zero": false}, "axis": null}, "y2": {"field": "y2"}}},
    {"data": {"name": "guides"}, "mark": {"type": "rule", "color": "#333333", "strokeWidth": 1},
     "encoding": {"x": {"field": "x", "type": "quantitative", "scale": {"domain": [-5.9, 11.9], "nice": false, "zero": false}, "axis": null}, "x2": {"field": "x2"},
                  "y": {"field": "y", "type": "quantitative", "scale": {"domain": [-0.4252, 3.0762], "nice": false, "zero": false}, "axis": null}, "y2": {"field": "y2"}}},
    {"data": {"name": "arrowsB"}, "mark": {"type": "rule", "color": "#333333", "strokeWidth": 1},
     "encoding": {"x": {"field": "x", "type": "quantitative", "scale": {"domain": [-5.9, 11.9], "nice": false, "zero": false}, "axis": null}, "x2": {"field": "x2"},
                  "y": {"field": "y", "type": "quantitative", "scale": {"domain": [-0.4252, 3.0762], "nice": false, "zero": false}, "axis": null}, "y2": {"field": "y2"}}},
    {"data": {"name": "heads"}, "mark": {"type": "point", "shape": "M0,0L0.45,1L0,0.7L-0.45,1Z", "filled": true, "color": "#333333", "size": 576, "opacity": 1, "strokeWidth": 0},
     "encoding": {"x": {"field": "x", "type": "quantitative", "scale": {"domain": [-5.9, 11.9], "nice": false, "zero": false}, "axis": null},
                  "y": {"field": "y", "type": "quantitative", "scale": {"domain": [-0.4252, 3.0762], "nice": false, "zero": false}, "axis": null},
                  "angle": {"field": "dir", "type": "quantitative", "scale": null}}},
    {"data": {"name": "headsB"}, "mark": {"type": "point", "shape": "M0,0L0.45,1L0,0.7L-0.45,1Z", "filled": true, "color": "#333333", "size": 576, "opacity": 1, "strokeWidth": 0},
     "encoding": {"x": {"field": "x", "type": "quantitative", "scale": {"domain": [-5.9, 11.9], "nice": false, "zero": false}, "axis": null},
                  "y": {"field": "y", "type": "quantitative", "scale": {"domain": [-0.4252, 3.0762], "nice": false, "zero": false}, "axis": null},
                  "angle": {"field": "dir", "type": "quantitative", "scale": null}}},
    {"data": {"name": "notes"}, "mark": {"type": "text", "font": "Liberation Serif", "fontSize": 21.5, "align": "left", "baseline": "middle", "color": "#000000"},
     "encoding": {"x": {"field": "x", "type": "quantitative", "scale": {"domain": [-5.9, 11.9], "nice": false, "zero": false}, "axis": null},
                  "y": {"field": "y", "type": "quantitative", "scale": {"domain": [-0.4252, 3.0762], "nice": false, "zero": false}, "axis": null}, "text": {"field": "text"}}},
    {"data": {"name": "axisNote"}, "mark": {"type": "text", "font": "Liberation Serif", "fontSize": 21, "align": "center", "baseline": "middle", "angle": 270, "color": "#000000"},
     "encoding": {"x": {"field": "x", "type": "quantitative", "scale": {"domain": [-5.9, 11.9], "nice": false, "zero": false}, "axis": null},
                  "y": {"field": "y", "type": "quantitative", "scale": {"domain": [-0.4252, 3.0762], "nice": false, "zero": false}, "axis": null}, "text": {"field": "text"}}},
    {"data": {"name": "domLabels"}, "mark": {"type": "text", "font": "Liberation Serif", "fontSize": 21.5, "align": "center", "baseline": "middle", "color": "#000000"},
     "encoding": {"x": {"field": "x", "type": "quantitative", "scale": {"domain": [-5.9, 11.9], "nice": false, "zero": false}, "axis": null},
                  "y": {"field": "y", "type": "quantitative", "scale": {"domain": [-0.4252, 3.0762], "nice": false, "zero": false}, "axis": null}, "text": {"field": "text"}}},
    {"data": {"name": "capB"}, "mark": {"type": "text", "font": "Liberation Serif", "fontSize": 24.5, "align": "left", "baseline": "middle", "color": "#000000"},
     "encoding": {"x": {"field": "x", "type": "quantitative", "scale": {"domain": [-5.9, 11.9], "nice": false, "zero": false}, "axis": null},
                  "y": {"field": "y", "type": "quantitative", "scale": {"domain": [-0.4252, 3.0762], "nice": false, "zero": false}, "axis": null}, "text": {"field": "text"}}},

    {"data": {"name": "guides"}, "mark": {"type": "rule", "color": "#333333", "strokeWidth": 1},
     "encoding": {"x": {"field": "x", "type": "quantitative", "scale": {"domain": [-11.9, 5.9], "nice": false, "zero": false}, "axis": null}, "x2": {"field": "x2"},
                  "y": {"field": "y", "type": "quantitative", "scale": {"domain": [-2.4825, 1.0088], "nice": false, "zero": false}, "axis": null}, "y2": {"field": "y2"}}},
    {"data": {"name": "heads"}, "mark": {"type": "point", "shape": "M0,0L0.45,1L0,0.7L-0.45,1Z", "filled": true, "color": "#333333", "size": 576, "opacity": 1, "strokeWidth": 0},
     "encoding": {"x": {"field": "x", "type": "quantitative", "scale": {"domain": [-11.9, 5.9], "nice": false, "zero": false}, "axis": null},
                  "y": {"field": "y", "type": "quantitative", "scale": {"domain": [-2.4825, 1.0088], "nice": false, "zero": false}, "axis": null},
                  "angle": {"field": "dir", "type": "quantitative", "scale": null}}},
    {"data": {"name": "notes"}, "mark": {"type": "text", "font": "Liberation Serif", "fontSize": 21.5, "align": "left", "baseline": "middle", "color": "#000000"},
     "encoding": {"x": {"field": "x", "type": "quantitative", "scale": {"domain": [-11.9, 5.9], "nice": false, "zero": false}, "axis": null},
                  "y": {"field": "y", "type": "quantitative", "scale": {"domain": [-2.4825, 1.0088], "nice": false, "zero": false}, "axis": null}, "text": {"field": "text"}}},
    {"data": {"name": "axisNote"}, "mark": {"type": "text", "font": "Liberation Serif", "fontSize": 21, "align": "center", "baseline": "middle", "angle": 270, "color": "#000000"},
     "encoding": {"x": {"field": "x", "type": "quantitative", "scale": {"domain": [-11.9, 5.9], "nice": false, "zero": false}, "axis": null},
                  "y": {"field": "y", "type": "quantitative", "scale": {"domain": [-2.4825, 1.0088], "nice": false, "zero": false}, "axis": null}, "text": {"field": "text"}}},

    {"data": {"name": "caption"}, "mark": {"type": "text", "font": "Liberation Serif", "fontSize": 20.5, "align": "left", "baseline": "middle", "color": "#000000"},
     "encoding": {"x": {"field": "x", "type": "quantitative", "scale": {"domain": [-11.9, 5.9], "nice": false, "zero": false}, "axis": null},
                  "y": {"field": "y", "type": "quantitative", "scale": {"domain": [-2.4825, 1.0088], "nice": false, "zero": false}, "axis": null}, "text": {"field": "text"}}},
    {"data": {"name": "alg"}, "mark": {"type": "text", "font": "Liberation Serif", "fontSize": 26, "align": "left", "baseline": "middle", "color": "#000000"},
     "encoding": {"x": {"field": "x", "type": "quantitative", "scale": {"domain": [-11.9, 5.9], "nice": false, "zero": false}, "axis": null},
                  "y": {"field": "y", "type": "quantitative", "scale": {"domain": [-2.4825, 1.0088], "nice": false, "zero": false}, "axis": null}, "text": {"field": "text"}}},
    {"data": {"name": "algNum"}, "mark": {"type": "text", "font": "Liberation Serif", "fontSize": 26, "align": "right", "baseline": "middle", "color": "#000000"},
     "encoding": {"x": {"field": "x", "type": "quantitative", "scale": {"domain": [-11.9, 5.9], "nice": false, "zero": false}, "axis": null},
                  "y": {"field": "y", "type": "quantitative", "scale": {"domain": [-2.4825, 1.0088], "nice": false, "zero": false}, "axis": null}, "text": {"field": "text"}}},
    {"data": {"name": "algBold"}, "mark": {"type": "text", "font": "Liberation Serif", "fontSize": 26, "fontWeight": "bold", "align": "left", "baseline": "middle", "color": "#000000"},
     "encoding": {"x": {"field": "x", "type": "quantitative", "scale": {"domain": [-11.9, 5.9], "nice": false, "zero": false}, "axis": null},
                  "y": {"field": "y", "type": "quantitative", "scale": {"domain": [-2.4825, 1.0088], "nice": false, "zero": false}, "axis": null}, "text": {"field": "text"}}},
    {"data": {"name": "algSmall"}, "mark": {"type": "text", "font": "Liberation Serif", "fontSize": 17, "align": "center", "baseline": "middle", "color": "#000000"},
     "encoding": {"x": {"field": "x", "type": "quantitative", "scale": {"domain": [-11.9, 5.9], "nice": false, "zero": false}, "axis": null},
                  "y": {"field": "y", "type": "quantitative", "scale": {"domain": [-2.4825, 1.0088], "nice": false, "zero": false}, "axis": null}, "text": {"field": "text"}}},
    {"data": {"name": "algBars"}, "mark": {"type": "rule", "color": "#000000", "strokeWidth": 1},
     "encoding": {"x": {"field": "x", "type": "quantitative", "scale": {"domain": [-11.9, 5.9], "nice": false, "zero": false}, "axis": null}, "x2": {"field": "x2"},
                  "y": {"field": "y", "type": "quantitative", "scale": {"domain": [-2.4825, 1.0088], "nice": false, "zero": false}, "axis": null}, "y2": {"field": "y2"}}}
  ],
  "resolve": {"scale": {"x": "independent", "y": "independent"}}
}
